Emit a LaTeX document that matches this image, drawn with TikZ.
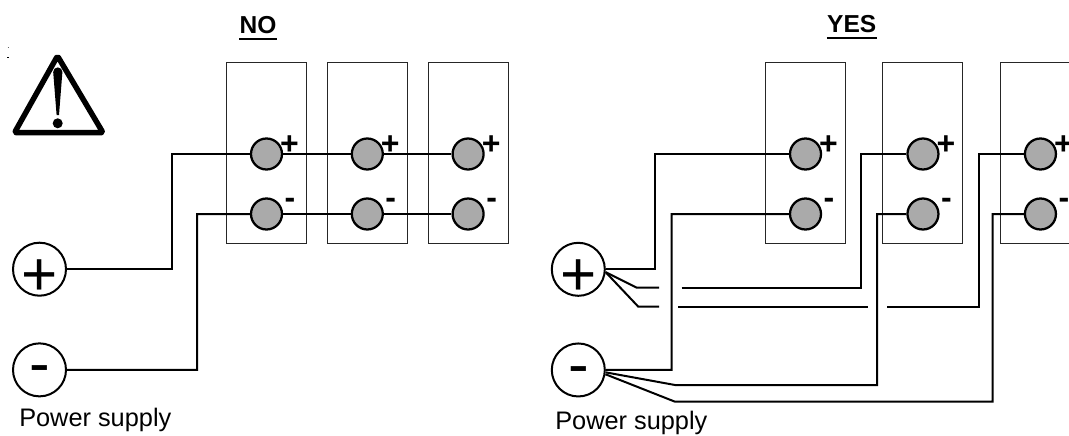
\documentclass[tikz,border=0pt]{standalone}
\usepackage{fontspec}
\setmainfont{Liberation Sans}
\usepackage{tikz}
\usepackage{xcolor}
\usetikzlibrary{positioning, calc}

\definecolor{termgray}{RGB}{170,170,170}

\begin{document}
\begin{tikzpicture}[x=0.75pt, y=-0.75pt, on grid,
    cell/.style={rectangle, draw=black!85, line width=0.75pt, minimum width=60pt, minimum height=135.75pt, inner sep=0pt},
    term/.style={circle, draw, fill=termgray, line width=1.7pt, minimum size=23.25pt, inner sep=0pt},
    supply/.style={circle, draw, line width=1.5pt, minimum size=39.75pt, inner sep=0pt},
    sgn/.style={inner sep=0pt, anchor=base, font=\fontsize{24}{24}\selectfont\bfseries},
    bigsgn/.style={inner sep=0pt, anchor=base, font=\fontsize{46.5}{46.5}\selectfont},
    title/.style={inner sep=0pt, anchor=base, font=\fontsize{18.4}{18.4}\selectfont\bfseries},
    caption/.style={inner sep=0pt, anchor=base west, font=\fontsize{19}{19}\selectfont},
    wire/.style={line width=1.5pt}]

    \useasboundingbox (0,0) rectangle (1069,435);

    % warning sign
    \draw[line width=4.1pt, line join=round, rounded corners=1.5pt] (57.5,56) -- (103,132.7) -- (14.5,132.7) -- cycle;
    \fill (53.2,72) -- (56.6,115) -- (59,115) -- (62.4,72) arc[start angle=0, end angle=-180, radius=4.6] -- cycle;
    \fill (57.7,123.3) circle[radius=5];
    \draw[line width=0.4pt, black!60] (7.6,47.3) -- (8.6,47.3);
    \draw[line width=0.6pt] (7.3,57.3) -- (9.3,57.3);

    % titles
    \node[title] (NO) at (258,33.3) {NO};
    \node[title] (YES) at (851.7,33) {YES};
    \draw[line width=1.5pt] ($(NO.base west)+(0,5.6)$) -- ($(NO.base east)+(0,5.6)$);
    \draw[line width=1.5pt] ($(YES.base west)+(0,5.4)$) -- ($(YES.base east)+(0,5.4)$);

    % NO: batteries
    \node[term] (Lp1) at (266.5,154) {};
    \node[term, right=75.6pt of Lp1] (Lp2) {};
    \node[term, right=75.6pt of Lp2] (Lp3) {};
    \node[term, below=45pt of Lp1] (Lm1) {};
    \node[term, below=45pt of Lp2] (Lm2) {};
    \node[term, below=45pt of Lp3] (Lm3) {};
    \node[cell, yshift=1pt] (L1) at (Lp1) {};
    \node[cell, yshift=1pt] (L2) at (Lp2) {};
    \node[cell, yshift=1pt] (L3) at (Lp3) {};
    \node[sgn] (Lps1) at (289.5,154.6) {+};
    \node[sgn] (Lps2) at (390.3,154.6) {+};
    \node[sgn] (Lps3) at (491.1,154.6) {+};
    \node[sgn] (Lms1) at (290,208) {-};
    \node[sgn] (Lms2) at (390.8,208) {-};
    \node[sgn] (Lms3) at (491.6,208) {-};

    % NO: power supply
    \node[supply] (Sp1) at (39.5,269.2) {};
    \node[supply, below=75.5pt of Sp1] (Sm1) {};
    \node[bigsgn] (Sps1) at (39.5,295.3) {+};
    \node[bigsgn] (Sms1) at (39.7,384.9) {-};
    \node[caption] (Cap1) at (19,426) {Power supply};

    \draw[wire] (Sp1) -- (171.5,269.2) |- (Lp1);
    \draw[wire] (Sm1) -- (197,369.9) |- (Lm1);
    \path[wire]
    (Lp1) edge (Lp2)
    (Lp2) edge (Lp3)
    (Lm1) edge (Lm2)
    (Lm2) edge (Lm3);

    % YES: batteries
    \node[term] (Rp1) at (805.5,154) {};
    \node[term, right=88.1pt of Rp1] (Rp2) {};
    \node[term, right=88.1pt of Rp2] (Rp3) {};
    \node[term, below=45pt of Rp1] (Rm1) {};
    \node[term, below=45pt of Rp2] (Rm2) {};
    \node[term, below=45pt of Rp3] (Rm3) {};
    \node[cell, yshift=1pt] (R1) at (Rp1) {};
    \node[cell, yshift=1pt] (R2) at (Rp2) {};
    \node[cell, yshift=1pt] (R3) at (Rp3) {};
    \node[sgn] (Rps1) at (828.5,154.6) {+};
    \node[sgn] (Rps2) at (946,154.6) {+};
    \node[sgn] (Rps3) at (1063.4,154.6) {+};
    \node[sgn] (Rms1) at (829,208) {-};
    \node[sgn] (Rms2) at (946.5,208) {-};
    \node[sgn] (Rms3) at (1063.9,208) {-};

    % YES: power supply
    \node[supply] (Sp2) at (578.3,269.3) {};
    \node[supply, below=75.5pt of Sp2] (Sm2) {};
    \node[bigsgn] (Sps2) at (578.3,295.4) {+};
    \node[bigsgn] (Sms2) at (578.5,385) {-};
    \node[caption] (Cap2) at (555,429.5) {Power supply};

    % gaps where the + leads pass the - leads
    \coordinate (g1) at (659,287.7);
    \coordinate (g2) at (681.7,287.7);
    \coordinate (g3) at (659,306.7);
    \coordinate (g4) at (678.3,306.7);
    \coordinate (g5) at (868.3,306.7);
    \coordinate (g6) at (887.3,306.7);

    \draw[wire] (Sp2) -- (655,269.3) |- (Rp1);
    \draw[wire] (Sp2.-6) -- (636.7,287.7) -- (g1);
    \draw[wire] (g2) -- (860.5,287.7) |- (Rp2);
    \draw[wire] (Sp2.-6) -- (638.3,306.7) -- (g3);
    \draw[wire] (g4) -- (g5);
    \draw[wire] (g6) -- (979,306.7) |- (Rp3);
    \draw[wire] (Sm2) -- (671.5,369.9) |- (Rm1);
    \draw[wire] (Sm2.-5) -- (675,385) -- (877,385) |- (Rm2);
    \draw[wire] (Sm2.-9) -- (675,401.7) -- (992.5,401.7) |- (Rm3);

\end{tikzpicture}
\end{document}
